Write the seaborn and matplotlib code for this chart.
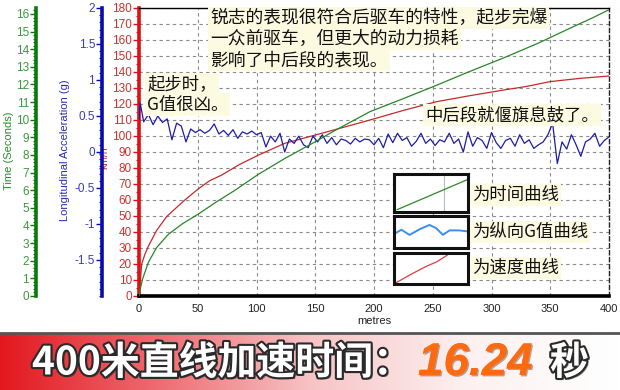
import numpy as np
import pandas as pd
import matplotlib
matplotlib.use("Agg")
import matplotlib.pyplot as plt
import seaborn as sns
from matplotlib.ticker import MultipleLocator, FixedLocator
from matplotlib.colors import LinearSegmentedColormap
import matplotlib.patheffects as pe

# ---------------- data ----------------
speed_dist = [0, 1, 2.3, 5, 7.9, 15, 23.5, 30, 39, 50.5, 60, 70.4, 85, 101.5, 124,
              150, 167, 196.6, 225, 253, 280, 310, 330, 350, 375, 400]
speed_kmh = [0, 8, 20, 26, 31, 41, 49.6, 54, 60, 67, 72, 75.6, 82, 88, 95.4,
             100.6, 104, 110, 116, 121.4, 125, 128.7, 131, 134, 136, 137.5]

time_dist = [0, 0.85, 3, 7.9, 15, 25, 37, 50.5, 65, 81.7, 101.5, 124, 150, 167,
             196.6, 225, 253, 280, 310, 340, 367, 385, 400]
time_s = [0, 0.34, 0.95, 1.9, 2.75, 3.5, 4.1, 4.65, 5.3, 6.0, 6.9, 7.8, 8.75, 9.4,
          10.46, 11.2, 11.95, 12.7, 13.5, 14.35, 15.2, 15.75, 16.24]

g_dist = [0, 1] + list(range(4, 401, 4))
g_vals = [0.45, 0.68,
          0.42, 0.52, 0.38, 0.50, 0.41, 0.46, 0.17, 0.40, 0.36, 0.14,
          0.32, 0.27, 0.31, 0.26, 0.30, 0.39, 0.25, 0.30, 0.23, 0.31,
          0.19, 0.28, 0.25, 0.29, 0.24, 0.27, 0.07, 0.22, 0.14, 0.26,
          0.00, 0.18, 0.12, 0.22, 0.10, 0.06, 0.22, 0.14, 0.24, 0.12,
          0.20, 0.10, 0.18, 0.16, 0.11, 0.19, 0.14, 0.18, 0.17, 0.10,
          0.19, 0.06, 0.25, 0.13, 0.26, 0.16, 0.20, 0.08, 0.15, 0.26,
          0.12, 0.18, 0.09, 0.17, 0.14, 0.26, 0.12, 0.18, 0.00, 0.28,
          0.08, 0.20, 0.16, 0.05, 0.27, 0.13, 0.05, 0.16, 0.19, 0.08,
          0.24, 0.12, 0.17, 0.05, 0.10, 0.14, 0.24, 0.40, -0.16, 0.14,
          0.04, 0.24, 0.10, -0.06, 0.14, 0.18, 0.26, 0.08, 0.16, 0.21]

x_ticks = [0, 50, 100, 150, 200, 250, 300, 350, 400]
speed_ticks = list(range(0, 181, 10))
time_ticks = list(range(0, 17))
g_ticks = [-1.5, -1, -0.5, 0, 0.5, 1, 1.5, 2]
g_tick_labels = ["-1.5", "-1", "-0.5", "0", "0.5", "1", "1.5", "2"]

legend_green_x = [0.04, 0.99]
legend_green_y = [0.06, 0.85]
legend_blue_x = [0.01, 0.10, 0.21, 0.35, 0.48, 0.57, 0.66, 0.75, 0.88, 0.99]
legend_blue_y = [0.45, 0.57, 0.41, 0.59, 0.72, 0.62, 0.41, 0.55, 0.55, 0.52]
legend_red_x = [0.02, 0.22, 0.42, 0.58, 0.72]
legend_red_y = [0.03, 0.30, 0.55, 0.72, 0.93]

# ---------------- style ----------------
sns.set_style("white")
plt.rcParams["font.family"] = ["Liberation Sans", "Noto Sans CJK SC", "DejaVu Sans"]
CJK = ["Noto Sans CJK SC", "DejaVu Sans"]

W, H = 620, 390
fig = plt.figure(figsize=(W / 100, H / 100), dpi=100)
fig.patch.set_facecolor("white")

def fx(px):
    return px / W

def fy(py):
    return 1 - py / H

L, R, T, B = 139, 609, 8, 296
ax = fig.add_axes([fx(L), fy(B), (R - L) / W, (B - T) / H])
axb = ax.twinx()
axg = ax.twinx()

RED = "#c42a2a"
BLUE = "#1c1ca8"
GREEN = "#2a862a"

sns.lineplot(x=speed_dist, y=speed_kmh, ax=ax, color=RED, lw=0.9)
sns.lineplot(x=g_dist, y=g_vals, ax=axb, color=BLUE, lw=0.9)
sns.lineplot(x=time_dist, y=time_s, ax=axg, color=GREEN, lw=0.9)

# main (speed) axis
ax.set_xlim(0, 400)
ax.set_ylim(0, 180)
ax.set_xticks(x_ticks)
ax.xaxis.set_minor_locator(MultipleLocator(12.5))
ax.set_yticks(speed_ticks)
ax.yaxis.set_minor_locator(MultipleLocator(5))
ax.grid(True, which="major", color="#8a8a8a", lw=0.8, ls=(0, (3, 3)))
ax.set_axisbelow(True)
ax.tick_params(axis="x", which="major", direction="in", length=4, width=1,
               labelsize=8, labelcolor="#222222", pad=6)
ax.tick_params(axis="x", which="minor", direction="in", length=2.5, width=0.8)
ax.tick_params(axis="y", which="major", direction="out", length=4, width=1,
               color="#dd1111", labelsize=8.5, labelcolor="#d03030", pad=1)
ax.tick_params(axis="y", which="minor", direction="out", length=2, width=0.8,
               color="#dd1111")
ax.set_xlabel("metres", fontsize=8, color="#222222", labelpad=1)
ax.set_ylabel("km/h", fontsize=7.5, color="#c03040")
ax.yaxis.set_label_coords(-0.063, 0.48)
ax.spines["left"].set_color("#dd1111")
ax.spines["left"].set_linewidth(2.6)
ax.spines["bottom"].set_color("black")
ax.spines["bottom"].set_linewidth(2.6)
ax.spines["top"].set_color("black")
ax.spines["top"].set_linewidth(1.0)
ax.spines["right"].set_color("#222222")
ax.spines["right"].set_linewidth(1.0)
ax.spines["right"].set_linestyle((0, (3, 2)))

# acceleration axis
axb.set_ylim(-2, 2)
axb.set_xlim(0, 400)
axb.yaxis.tick_left()
axb.yaxis.set_label_position("left")
axb.set_yticks(g_ticks)
axb.set_yticklabels(g_tick_labels)
axb.yaxis.set_minor_locator(MultipleLocator(0.1))
for s in ["right", "top", "bottom"]:
    axb.spines[s].set_visible(False)
axb.spines["left"].set_visible(True)
axb.spines["left"].set_position(("outward", 37 * 0.72))
axb.spines["left"].set_color("#0a0ab0")
axb.spines["left"].set_linewidth(2.6)
axb.tick_params(axis="y", which="major", direction="out", length=4, width=1,
                color="#0a0ab0", labelsize=8.5, labelcolor="#3a3ac0", pad=1)
axb.tick_params(axis="y", which="minor", direction="out", length=2, width=0.8,
                color="#0a0ab0")
axb.set_ylabel("Longitudinal Acceleration (g)", fontsize=8, color="#2a2ab8")
axb.yaxis.set_label_coords(-0.146, 0.505)

# time axis
axg.set_ylim(0, 16.34)
axg.set_xlim(0, 400)
axg.yaxis.tick_left()
axg.yaxis.set_label_position("left")
axg.set_yticks(time_ticks)
axg.yaxis.set_minor_locator(MultipleLocator(0.2))
for s in ["right", "top", "bottom"]:
    axg.spines[s].set_visible(False)
axg.spines["left"].set_visible(True)
axg.spines["left"].set_position(("outward", 103 * 0.72))
axg.spines["left"].set_color("#0a7a0a")
axg.spines["left"].set_linewidth(2.6)
axg.tick_params(axis="y", which="major", direction="out", length=4, width=1,
                color="#0a7a0a", labelsize=8.5, labelcolor="#3a9a3a", pad=1)
axg.tick_params(axis="y", which="minor", direction="out", length=2, width=0.8,
                color="#0a7a0a")
axg.set_ylabel("Time (Seconds)", fontsize=8, color="#2a8a2a")
axg.yaxis.set_label_coords(-0.266, 0.505)
axb.set_xlabel("")
axg.set_xlabel("")

# ---------------- annotations ----------------
box = dict(boxstyle="square,pad=0.12", facecolor="#fdfae2", edgecolor="none")

lines1 = ["锐志的表现很符合后驱车的特性，起步完爆",
          "一众前驱车，但更大的动力损耗",
          "影响了中后段的表现。"]
for i, txt in enumerate(lines1):
    fig.text(fx(210), fy(18 + 21 * i), txt, family=CJK, fontsize=12.8,
             color="#111111", va="center", ha="left", bbox=box, zorder=10)

for i, txt in enumerate(["起步时，", "G值很凶。"]):
    fig.text(fx(147), fy(84 + 20.5 * i), txt, family=CJK, fontsize=12.5,
             color="#111111", va="center", ha="left", bbox=box, zorder=10)

fig.text(fx(425), fy(115), "中后段就偃旗息鼓了。", family=CJK, fontsize=12.5,
         color="#111111", va="center", ha="left", bbox=box, zorder=10)

# legend boxes
leg_specs = [
    (174, 212, legend_green_x, legend_green_y, "#2a8a2a", "为时间曲线", 195),
    (216, 248, legend_blue_x, legend_blue_y, "#3d8fe6", "为纵向G值曲线", 232),
    (253, 284, legend_red_x, legend_red_y, "#e03a3a", "为速度曲线", 268),
]
for k, (y0, y1, lx, ly, col, lab, yc) in enumerate(leg_specs):
    lax = fig.add_axes([fx(394), fy(y1), 74 / W, (y1 - y0) / H])
    lax.set_facecolor("white")
    if k == 0:
        lax.axvline(0.68, color="#bbbbbb", lw=0.8)
    sns.lineplot(x=lx, y=ly, ax=lax, color=col, lw=1.4 if k == 1 else 0.9,
                 sort=False, estimator=None)
    lax.set_xlim(0, 1)
    lax.set_ylim(0, 1)
    lax.set_xticks([])
    lax.set_yticks([])
    lax.set_xlabel("")
    lax.set_ylabel("")
    for s in lax.spines.values():
        s.set_color("#111111")
        s.set_linewidth(2.2)
    fig.text(fx(472), fy(yc), lab, family=CJK, fontsize=12.5, color="#111111",
             va="center", ha="left", bbox=box, zorder=10)

# ---------------- bottom banner ----------------
bax = fig.add_axes([0, 0, 1, 57 / H])
cmap = LinearSegmentedColormap.from_list(
    "banner", ["#e3181f", "#ee6a70", "#f7c3c5", "#fdf0f0", "#ffffff"])
grad = np.tile(np.linspace(0, 1, 256), (8, 1))
bax.imshow(grad, aspect="auto", cmap=cmap, extent=[0, 1, 0, 1])
bax.set_xlim(0, 1)
bax.set_ylim(0, 1)
bax.set_xticks([])
bax.set_yticks([])
for s in ["left", "right", "bottom"]:
    bax.spines[s].set_visible(False)
bax.spines["top"].set_color("#555555")
bax.spines["top"].set_linewidth(2)

outline = [pe.withSimplePatchShadow(offset=(1.5, -1.5), shadow_rgbFace="#333333", alpha=0.6),
           pe.Stroke(linewidth=3, foreground="#2a2a2a"), pe.Normal()]
fig.text(fx(32), fy(363), "400米直线加速时间：", family=CJK, fontsize=28,
         fontweight="black", color="white", va="center", ha="left",
         path_effects=outline)
fig.text(fx(418), fy(363), "16.24", family=["Liberation Sans", "DejaVu Sans"],
         fontsize=33, fontweight="bold", style="italic", color="#ff6a10",
         va="center", ha="left",
         path_effects=[pe.withSimplePatchShadow(offset=(1, -1), alpha=0.4), pe.Normal()])
fig.text(fx(550), fy(363), "秒", family=CJK, fontsize=28, fontweight="black",
         color="white", va="center", ha="left", path_effects=outline)

fig.savefig("out.png", dpi=100)
